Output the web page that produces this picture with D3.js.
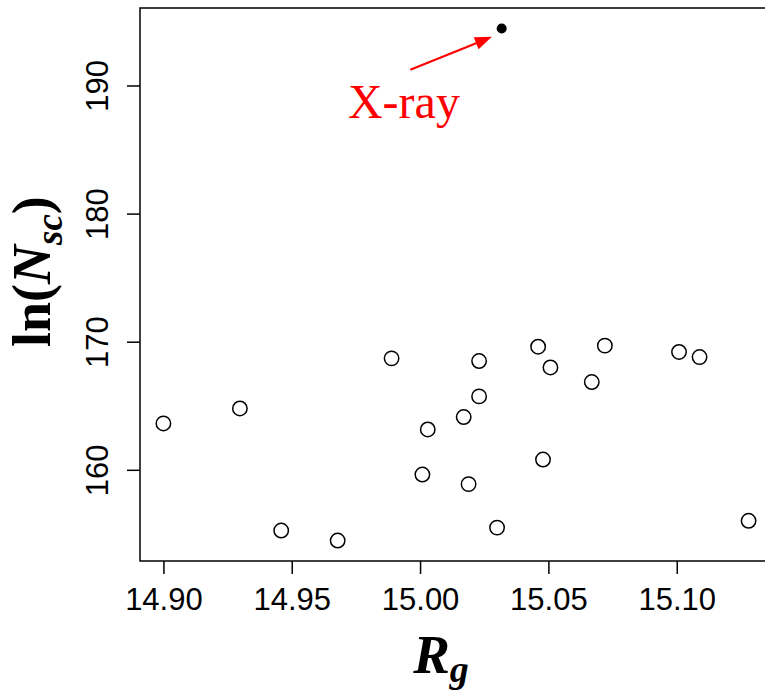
<!DOCTYPE html>
<html>
<head>
<meta charset="utf-8">
<script src="https://cdn.jsdelivr.net/npm/d3@7"></script>
<style>
  html, body { margin: 0; padding: 0; background: #fff; }
  svg { display: block; }
</style>
</head>
<body>
<svg id="chart" width="765" height="692"></svg>
<script>
// Radius of gyration of each conformer and its log score
const rg = [14.900, 14.9298, 14.9459, 14.9679, 14.9889, 15.0009, 15.0030, 15.0170, 15.0189, 15.0230,
            15.0230, 15.0300, 15.0460, 15.0479, 15.0508, 15.0669, 15.0720, 15.1009, 15.1089, 15.1280];
const lnNsc = [163.62, 164.79, 155.26, 154.48, 168.70, 159.63, 163.15, 164.12, 158.88, 168.49,
               165.73, 155.49, 169.61, 160.80, 167.99, 166.85, 169.69, 169.20, 168.80, 156.02];

// Crystal structure reference point
const xrayRg = [15.0318];
const xrayLnNsc = [194.45];
const xrayLabel = ["X-ray"];

// Axis ticks
const xTicks = [14.90, 14.95, 15.00, 15.05, 15.10];
const yTicks = [160, 170, 180, 190];

// Annotation arrow (data units): tail near the label, head next to the X-ray point
const arrowFrom = [14.9962, 191.23];
const arrowTo = [15.0280, 193.80];
const labelAt = [14.9719, 190.0];

const svg = d3.select("#chart");
const plot = { left: 140, right: 772, top: 8, bottom: 561 };

// R-style 4% padding around the data range
function padded(vals) {
  const [lo, hi] = d3.extent(vals);
  const p = (hi - lo) * 0.04;
  return [lo - p, hi + p];
}

const x = d3.scaleLinear()
  .domain(padded(rg.concat(xrayRg)))
  .range([plot.left, plot.right]);
const y = d3.scaleLinear()
  .domain(padded(lnNsc.concat(xrayLnNsc)))
  .range([plot.bottom, plot.top]);

const sans = "'Liberation Sans', Arial, Helvetica, sans-serif";
const serif = "'Liberation Serif', 'Times New Roman', Times, serif";

// X axis
const gx = svg.append("g")
  .attr("transform", `translate(0,${plot.bottom})`)
  .call(d3.axisBottom(x).tickValues(xTicks).tickFormat(d3.format(".2f"))
    .tickSize(13).tickSizeOuter(0));
gx.select(".domain").remove();
gx.selectAll(".tick line").attr("stroke", "#000").attr("stroke-width", 1.5);
gx.selectAll(".tick text")
  .attr("y", 49).attr("dy", 0)
  .attr("fill", "#000")
  .style("font-family", sans).style("font-size", "31px");

// Y axis with rotated labels
const gy = svg.append("g")
  .attr("transform", `translate(${plot.left},0)`)
  .call(d3.axisLeft(y).tickValues(yTicks).tickFormat(d3.format("d"))
    .tickSize(13).tickSizeOuter(0));
gy.select(".domain").remove();
gy.selectAll(".tick line").attr("stroke", "#000").attr("stroke-width", 1.5);
gy.selectAll(".tick text")
  .attr("x", 0).attr("y", 0).attr("dy", 0)
  .attr("text-anchor", "middle")
  .attr("transform", "translate(-32,0) rotate(-90)")
  .attr("fill", "#000")
  .style("font-family", sans).style("font-size", "31px");

// Plot frame
svg.append("rect")
  .attr("x", plot.left).attr("y", plot.top)
  .attr("width", plot.right - plot.left).attr("height", plot.bottom - plot.top)
  .attr("fill", "none").attr("stroke", "#000").attr("stroke-width", 1.5);

// Open circles for the conformers
svg.append("g").selectAll("circle")
  .data(d3.range(rg.length))
  .join("circle")
  .attr("cx", i => x(rg[i]))
  .attr("cy", i => y(lnNsc[i]))
  .attr("r", 7.2)
  .attr("fill", "none")
  .attr("stroke", "#000")
  .attr("stroke-width", 1.5);

// Filled point for the X-ray structure
svg.append("g").selectAll("circle")
  .data(d3.range(xrayRg.length))
  .join("circle")
  .attr("cx", i => x(xrayRg[i]))
  .attr("cy", i => y(xrayLnNsc[i]))
  .attr("r", 5)
  .attr("fill", "#000");

// Red arrow pointing at the X-ray point
const x0 = x(arrowFrom[0]), y0 = y(arrowFrom[1]);
const x1 = x(arrowTo[0]), y1 = y(arrowTo[1]);
const len = Math.hypot(x1 - x0, y1 - y0);
const ux = (x1 - x0) / len, uy = (y1 - y0) / len;
const headLen = 17, headHalf = 6.5;
const bx = x1 - ux * headLen, by = y1 - uy * headLen;
svg.append("line")
  .attr("x1", x0).attr("y1", y0).attr("x2", bx + ux * 2).attr("y2", by + uy * 2)
  .attr("stroke", "#ff0000").attr("stroke-width", 2.2);
svg.append("path")
  .attr("d", `M${x1},${y1}L${bx - uy * headHalf},${by + ux * headHalf}L${bx + uy * headHalf},${by - ux * headHalf}Z`)
  .attr("fill", "#ff0000");

svg.append("text")
  .attr("x", x(labelAt[0])).attr("y", 118)
  .attr("fill", "#ff0000")
  .style("font-family", serif).style("font-size", "48px")
  .text(xrayLabel[0]);

// Axis titles
const xt = svg.append("text")
  .attr("x", 441).attr("y", 673)
  .attr("text-anchor", "middle")
  .style("font-family", serif).style("font-size", "55px")
  .style("font-weight", "bold").style("font-style", "italic");
xt.append("tspan").text("R");
xt.append("tspan").attr("dy", 9).style("font-size", "38px").text("g");

const yt = svg.append("text")
  .attr("transform", "translate(50,347) rotate(-90)")
  .attr("text-anchor", "start")
  .style("font-family", serif).style("font-size", "54px")
  .style("font-weight", "bold");
yt.append("tspan").text("ln(");
yt.append("tspan").style("font-style", "italic").text("N");
yt.append("tspan").attr("dy", 12).style("font-style", "italic").style("font-size", "37px").text("sc");
yt.append("tspan").attr("dy", -12).text(")");
</script>
</body>
</html>
